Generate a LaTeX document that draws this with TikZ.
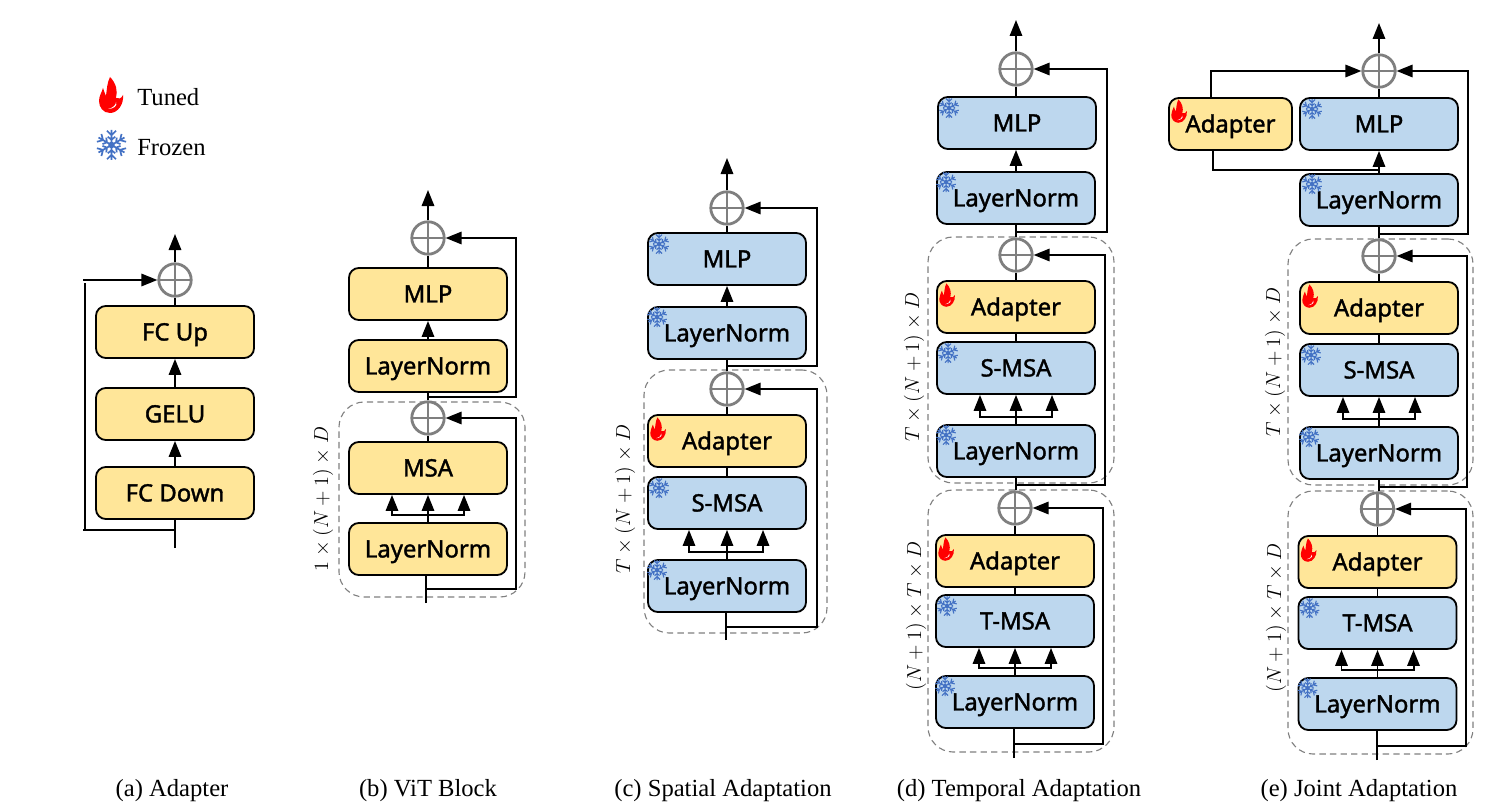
\documentclass[tikz,border=0pt]{standalone}
\usepackage{fontspec}
\usepackage{amsmath}
\setmainfont{Liberation Serif}
\newfontfamily\boxfont{Noto Sans}[FakeBold=1.5]
\usetikzlibrary{arrows.meta, positioning, calc}
\definecolor{tunedyellow}{HTML}{FFE699}
\definecolor{frozenblue}{HTML}{BDD7EE}
\definecolor{flakeblue}{HTML}{4472C4}
\definecolor{sumgray}{HTML}{7F7F7F}
\definecolor{groupgray}{HTML}{808080}

\tikzset{
  flame/.pic={
    \fill[red] (-1,-18) .. controls (5,-12) and (7,-4) .. (5,3) .. controls (8,4) and (10,4) .. (12,0)
      .. controls (13,9) and (7,18) .. (-1,18) .. controls (-8,18) and (-12,12) .. (-12,6)
      .. controls (-12,1) and (-9,-3) .. (-8,-7) .. controls (-7,-4) and (-6,-1) .. (-5,1)
      .. controls (-4,-6) and (-4,-12) .. (-1,-18) -- cycle;
    \fill[white] (5,7) .. controls (5,10) and (2,13) .. (-3,14) .. controls (2,14) and (7,11) .. (5,7) -- cycle;
  },
  flake/.pic={
    \foreach \a in {0,60,...,300}
      \draw[flakeblue, rotate=\a] (0,0) -- (0,10) (-3,9.5) -- (0,6.5) -- (3,9.5) (-2.5,5.5) -- (0,3.5) -- (2.5,5.5);
    \fill[flakeblue] (0,0) circle (2.2);
  },
}

\begin{document}
\begin{tikzpicture}[x=0.025cm, y=-0.025cm,
  every node/.style={font=\boxfont\fontsize{17}{18}\selectfont, text=black},
  blockbox/.style={rectangle, rounded corners=7pt, draw=black, line width=1.3pt, minimum width=3.95cm, minimum height=1.3cm, inner sep=0pt, text height=12pt, text depth=0pt},
  tunedbox/.style={blockbox, fill=tunedyellow},
  frozenbox/.style={blockbox, fill=frozenblue},
  sumnode/.style={circle, draw=sumgray, line width=2pt, minimum size=0.81cm, inner sep=0pt,
    path picture={\draw[sumgray, line width=2pt] (path picture bounding box.north) -- (path picture bounding box.south) (path picture bounding box.west) -- (path picture bounding box.east);}},
  groupbox/.style={rectangle, rounded corners=18pt, draw=groupgray, dash pattern=on 4.5pt off 3pt, line width=0.8pt, inner sep=0pt},
  shapelabel/.style={font=\fontsize{13.5}{16}\selectfont, rotate=90},
  captionlabel/.style={font=\rmfamily\fontsize{17.5}{20}\selectfont, inner sep=0pt},
  wireline/.style={draw=black, line width=1.4pt},
  flowline/.style={wireline, -{Triangle[length=0.4cm, width=0.31cm]}},
  smallflame/.style={scale=0.65},
  smallflake/.style={line width=0.8pt},
]
\useasboundingbox (0,0) rectangle (1489,807);

% Legend
\pic at (111,95) {flame};
\pic[scale=1.5, line width=1.2pt] at (111.5,145) {flake};
\node[captionlabel, anchor=west] (tuned) at (137,97) {Tuned};
\node[captionlabel, anchor=west] (frozen) at (137,148) {Frozen};

% (a) Adapter
\node[tunedbox] (aup) at (175,332) {FC Up};
\node[tunedbox] (agelu) at (175,414) {GELU};
\node[tunedbox] (adown) at (175,493) {FC Down};
\node[sumnode] (asum) at (175,280) {};
\coordinate (aout) at (175,234);
\coordinate (ain) at (175,548);
\coordinate (atap) at (175,530);
\coordinate (aleftdn) at (83,530);
\coordinate (aleftup) at (83,280);
\coordinate (arailtop) at (85,283);
\coordinate (arailbot) at (85,530);
\draw[wireline] (ain) -- (adown.south);
\draw[flowline] (adown.north) -- (agelu.south);
\draw[flowline] (agelu.north) -- (aup.south);
\draw[wireline] (aup.north) -- (asum.south);
\draw[flowline] (asum.north) -- (aout);
\draw[wireline] (atap) -- (aleftdn);
\draw[wireline] (arailbot) -- (arailtop);
\draw[flowline] (aleftup) -- (asum.west);
\node[captionlabel] (acap) at (172,791) {(a) Adapter};

% (b) ViT Block
\node[groupbox, minimum width=4.65cm, minimum height=4.875cm] (bgroup) at (432,499.5) {};
\node[tunedbox] (bmlp) at (428,294) {MLP};
\node[tunedbox] (bnormtop) at (428,366) {LayerNorm};
\node[tunedbox] (bmsa) at (428,468) {MSA};
\node[tunedbox] (bnorm) at (428,549) {LayerNorm};
\node[sumnode] (bsumtop) at (428,238) {};
\node[sumnode] (bsum) at (428,418) {};
\coordinate (bout) at (428,190);
\coordinate (bin) at (426,603);
\coordinate (btap) at (426,589);
\coordinate (brail) at (516,589);
\coordinate (btoptap) at (428,397);
\coordinate (btoprail) at (516,397);
\draw[wireline] (bin) -- (bin |- bnorm.south);
\draw[flowline] (bnorm.north) -- (bmsa.south);
\draw[flowline] ([yshift=0.18cm]bnorm.north) -| ([xshift=-0.9cm]bmsa.south);
\draw[flowline] ([yshift=0.18cm]bnorm.north) -| ([xshift=0.9cm]bmsa.south);
\draw[wireline] (bmsa.north) -- (bsum.south);
\draw[wireline] (bsum.north) -- (bnormtop.south);
\draw[flowline] (bnormtop.north) -- (bmlp.south);
\draw[wireline] (bmlp.north) -- (bsumtop.south);
\draw[flowline] (bsumtop.north) -- (bout);
\draw[flowline] (btap) -- (brail) |- (bsum.east);
\draw[flowline] (btoptap) -- (btoprail) |- (bsumtop.east);
\node[shapelabel] (blabel) at (323,499) {$1\times(N+1)\times D$};
\node[captionlabel] (bcap) at (428,791) {(b) ViT Block};

% (c) Spatial Adaptation
\node[groupbox, minimum width=4.575cm, minimum height=6.575cm] (cgroup) at (735.5,501.5) {};
\node[frozenbox] (cmlp) at (727,259) {MLP};
\node[frozenbox] (cnormtop) at (727,333) {LayerNorm};
\node[tunedbox] (cadapter) at (727,441) {Adapter};
\node[frozenbox] (csmsa) at (727,503) {S-MSA};
\node[frozenbox] (cnorm) at (727,586) {LayerNorm};
\node[sumnode] (csumtop) at (727,208) {};
\node[sumnode] (csum) at (727,389) {};
\coordinate (cout) at (727,158);
\coordinate (cin) at (726,640);
\coordinate (ctap) at (726,627);
\coordinate (crail) at (817,627);
\coordinate (ctoptap) at (727,366);
\coordinate (ctoprail) at (817,366);
\draw[wireline] (cin) -- (cin |- cnorm.south);
\draw[flowline] (cnorm.north) -- (csmsa.south);
\draw[flowline] ([yshift=0.18cm]cnorm.north) -| ([xshift=-0.95cm]csmsa.south);
\draw[flowline] ([yshift=0.18cm]cnorm.north) -| ([xshift=0.9cm]csmsa.south);
\draw[wireline] (csmsa.north) -- (cadapter.south);
\draw[wireline] (cadapter.north) -- (csum.south);
\draw[wireline] (csum.north) -- (cnormtop.south);
\draw[flowline] (cnormtop.north) -- (cmlp.south);
\draw[wireline] (cmlp.north) -- (csumtop.south);
\draw[flowline] (csumtop.north) -- (cout);
\draw[flowline] (ctap) -- (crail) |- (csum.east);
\draw[flowline] (ctoptap) -- (ctoprail) |- (csumtop.east);
\pic[smallflake] at ([shift={(12,12)}]cmlp.north west) {flake};
\pic[smallflake] at ([shift={(10,11)}]cnormtop.north west) {flake};
\pic[smallflame] at ([shift={(11,15)}]cadapter.north west) {flame};
\pic[smallflake] at ([shift={(12,12)}]csmsa.north west) {flake};
\pic[smallflake] at ([shift={(10,11)}]cnorm.north west) {flake};
\node[shapelabel] (clabel) at (625,499) {$T\times(N+1)\times D$};
\node[captionlabel] (ccap) at (723,791) {(c) Spatial Adaptation};

% (d) Temporal Adaptation
\node[groupbox, minimum width=4.65cm, minimum height=6.15cm] (dgroupup) at (1021,360) {};
\node[groupbox, minimum width=4.65cm, minimum height=6.55cm] (dgroupdn) at (1021,621) {};
\node[frozenbox] (dmlp) at (1017,123) {MLP};
\node[frozenbox] (dnormtop) at (1016,198) {LayerNorm};
\node[tunedbox] (dadapterup) at (1016,307) {Adapter};
\node[frozenbox] (dsmsa) at (1016,368) {S-MSA};
\node[frozenbox] (dnormup) at (1016,451) {LayerNorm};
\node[tunedbox] (dadapterdn) at (1015,561) {Adapter};
\node[frozenbox] (dtmsa) at (1015,621) {T-MSA};
\node[frozenbox] (dnormdn) at (1015,702) {LayerNorm};
\node[sumnode] (dsumtop) at (1016,69) {};
\node[sumnode] (dsumup) at (1016,255) {};
\node[sumnode] (dsumdn) at (1015,508) {};
\coordinate (dout) at (1016,20);
\coordinate (din) at (1014,758);
\coordinate (dtapdn) at (1014,744);
\coordinate (draildn) at (1103,744);
\coordinate (dtapup) at (1016,485);
\coordinate (drailup) at (1105,485);
\coordinate (dtaptop) at (1016,232);
\coordinate (drailtop) at (1107,232);
\draw[wireline] (din) -- (din |- dnormdn.south);
\draw[flowline] (dnormdn.north) -- (dtmsa.south);
\draw[flowline] ([yshift=0.18cm]dnormdn.north) -| ([xshift=-0.9cm]dtmsa.south);
\draw[flowline] ([yshift=0.18cm]dnormdn.north) -| ([xshift=0.9cm]dtmsa.south);
\draw[wireline] (dtmsa.north) -- (dadapterdn.south);
\draw[wireline] (dadapterdn.north) -- (dsumdn.south);
\draw[wireline] (dnormup.south |- dsumdn.north) -- (dnormup.south);
\draw[flowline] (dnormup.north) -- (dsmsa.south);
\draw[flowline] ([yshift=0.18cm]dnormup.north) -| ([xshift=-0.9cm]dsmsa.south);
\draw[flowline] ([yshift=0.18cm]dnormup.north) -| ([xshift=0.9cm]dsmsa.south);
\draw[wireline] (dsmsa.north) -- (dadapterup.south);
\draw[wireline] (dadapterup.north) -- (dsumup.south);
\draw[wireline] (dsumup.north) -- (dnormtop.south);
\draw[flowline] (dnormtop.north) -- (dnormtop.north |- dmlp.south);
\draw[wireline] (dsumtop.south |- dmlp.north) -- (dsumtop.south);
\draw[flowline] (dsumtop.north) -- (dout);
\draw[flowline] (dtapdn) -- (draildn) |- (dsumdn.east);
\draw[flowline] (dtapup) -- (drailup) |- (dsumup.east);
\draw[flowline] (dtaptop) -- (drailtop) |- (dsumtop.east);
\pic[smallflake] at ([shift={(12,12)}]dmlp.north west) {flake};
\pic[smallflake] at ([shift={(10,11)}]dnormtop.north west) {flake};
\pic[smallflame] at ([shift={(11,15)}]dadapterup.north west) {flame};
\pic[smallflake] at ([shift={(12,12)}]dsmsa.north west) {flake};
\pic[smallflake] at ([shift={(10,11)}]dnormup.north west) {flake};
\pic[smallflame] at ([shift={(11,15)}]dadapterdn.north west) {flame};
\pic[smallflake] at ([shift={(12,12)}]dtmsa.north west) {flake};
\pic[smallflake] at ([shift={(10,11)}]dnormdn.north west) {flake};
\node[shapelabel] (dlabelup) at (914,367) {$T\times(N+1)\times D$};
\node[shapelabel] (dlabeldn) at (916,616) {$(N+1)\times T\times D$};
\node[captionlabel] (dcap) at (1019,791) {(d) Temporal Adaptation};

% (e) Joint Adaptation
\node[groupbox, minimum width=4.625cm, minimum height=6.15cm] (egroupup) at (1380.5,362) {};
\node[groupbox, minimum width=4.625cm, minimum height=6.575cm] (egroupdn) at (1380.5,622.5) {};
\node[tunedbox, minimum width=3.075cm] (eadaptertop) at (1230.5,124) {Adapter};
\node[frozenbox] (emlp) at (1379,124) {MLP};
\node[frozenbox] (enormtop) at (1379,200) {LayerNorm};
\node[tunedbox] (eadapterup) at (1379,308) {Adapter};
\node[frozenbox] (esmsa) at (1379,370) {S-MSA};
\node[frozenbox] (enormup) at (1379,453) {LayerNorm};
\node[tunedbox] (eadapterdn) at (1377.5,562) {Adapter};
\node[frozenbox] (etmsa) at (1377.5,623) {T-MSA};
\node[frozenbox] (enormdn) at (1377.5,704) {LayerNorm};
\node[sumnode] (esumtop) at (1379,71) {};
\node[sumnode] (esumup) at (1379,256) {};
\node[sumnode] (esumdn) at (1377.5,509) {};
\coordinate (eout) at (1379,23);
\coordinate (ein) at (1377,760);
\coordinate (etapdn) at (1377,746);
\coordinate (eraildn) at (1466,746);
\coordinate (etapup) at (1379,487);
\coordinate (erailup) at (1467,487);
\coordinate (etaptop) at (1379,234);
\coordinate (erailtop) at (1468,234);
\coordinate (ebranch) at (1379,170);
\coordinate (eleftup) at (1211,71);
\coordinate (eleftdn) at (1213,170);
\draw[wireline] (ein) -- (ein |- enormdn.south);
\draw[flowline] (enormdn.north) -- (etmsa.south);
\draw[flowline] ([yshift=0.18cm]enormdn.north) -| ([xshift=-0.9cm]etmsa.south);
\draw[flowline] ([yshift=0.18cm]enormdn.north) -| ([xshift=0.9cm]etmsa.south);
\draw[wireline] (etmsa.north) -- (eadapterdn.south);
\draw[wireline] (eadapterdn.north) -- (esumdn.south);
\draw[wireline] (enormup.south |- esumdn.north) -- (enormup.south);
\draw[flowline] (enormup.north) -- (esmsa.south);
\draw[flowline] ([yshift=0.18cm]enormup.north) -| ([xshift=-0.9cm]esmsa.south);
\draw[flowline] ([yshift=0.18cm]enormup.north) -| ([xshift=0.9cm]esmsa.south);
\draw[wireline] (esmsa.north) -- (eadapterup.south);
\draw[wireline] (eadapterup.north) -- (esumup.south);
\draw[wireline] (esumup.north) -- (enormtop.south);
\draw[flowline] (enormtop.north) -- (emlp.south);
\draw[wireline] (emlp.north) -- (esumtop.south);
\draw[flowline] (esumtop.north) -- (eout);
\draw[flowline] (etapdn) -- (eraildn) |- (esumdn.east);
\draw[flowline] (etapup) -- (erailup) |- (esumup.east);
\draw[flowline] (etaptop) -- (erailtop) |- (esumtop.east);
\draw[wireline] (ebranch) -- (eleftdn) -- (eleftdn |- eadaptertop.south);
\draw[flowline] (eleftup |- eadaptertop.north) -- (eleftup) -- (esumtop.west);
\pic[smallflame] at ([shift={(11,14)}]eadaptertop.north west) {flame};
\pic[smallflake] at ([shift={(13,12)}]emlp.north west) {flake};
\pic[smallflake] at ([shift={(13,11)}]enormtop.north west) {flake};
\pic[smallflame] at ([shift={(11,15)}]eadapterup.north west) {flame};
\pic[smallflake] at ([shift={(12,12)}]esmsa.north west) {flake};
\pic[smallflake] at ([shift={(10,11)}]enormup.north west) {flake};
\pic[smallflame] at ([shift={(11,15)}]eadapterdn.north west) {flame};
\pic[smallflake] at ([shift={(12,12)}]etmsa.north west) {flake};
\pic[smallflake] at ([shift={(10,11)}]enormdn.north west) {flake};
\node[shapelabel] (elabelup) at (1275,362) {$T\times(N+1)\times D$};
\node[shapelabel] (elabeldn) at (1276,618) {$(N+1)\times T\times D$};
\node[captionlabel] (ecap) at (1359,791) {(e) Joint Adaptation};

\end{tikzpicture}
\end{document}
